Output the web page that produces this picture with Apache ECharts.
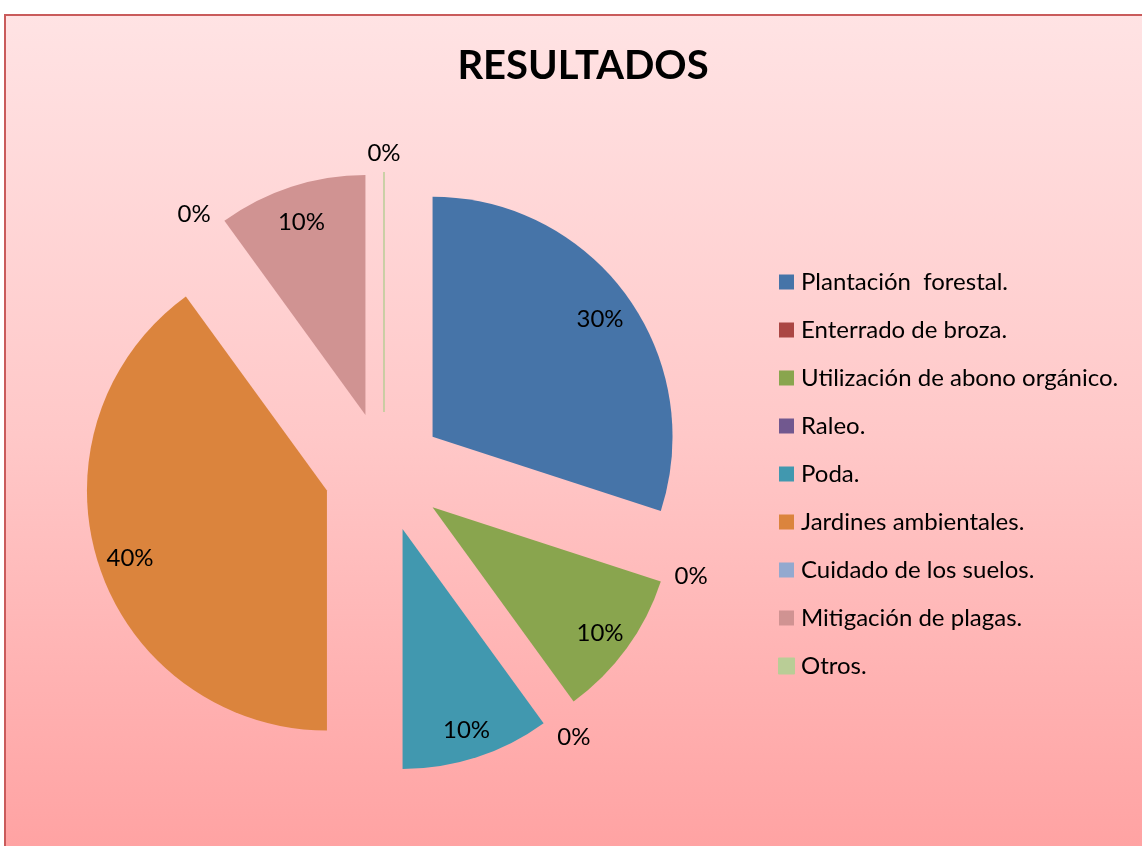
<!DOCTYPE html>
<html>
<head>
<meta charset="utf-8">
<script src="https://cdn.jsdelivr.net/npm/echarts@6/dist/echarts.min.js"></script>
<style>
  html, body { margin: 0; padding: 0; background: #fff; }
  #chart { width: 1142px; height: 846px; }
</style>
</head>
<body>
<div id="chart"></div>
<script>
// categorías y valores (porcentajes)
const categories = [
  'Plantación  forestal.',
  'Enterrado de broza.',
  'Utilización de abono orgánico.',
  'Raleo.',
  'Poda.',
  'Jardines ambientales.',
  'Cuidado de los suelos.',
  'Mitigación de plagas.',
  'Otros.'
]
const values = [30, 0, 10, 0, 10, 40, 0, 10, 0]
const colors = ['#4674A8', '#AA4643', '#89A54E', '#71588F', '#4198AF', '#DB843D', '#93A9CF', '#D09392', '#B9CD96']

const FONT = 'Lato'
const center = [384, 472]
const R = 240

const chart = echarts.init(document.getElementById('chart'), null, { renderer: 'canvas' })

// sectores
const pieData = categories.map((name, i) => ({
  name,
  value: values[i],
  selected: true,
  itemStyle: {
    color: colors[i],
    // Otros: sector vacío dibujado como una línea fina
    borderColor: name === 'Otros.' ? colors[i] : 'transparent',
    borderWidth: name === 'Otros.' ? 1 : 0
  }
}))

// solo etiquetas: anillo transparente para colocar el texto cerca del borde
const labelData = categories.map((name, i) => {
  const zero = values[i] === 0
  return {
    name,
    value: values[i],
    selected: true,
    label: zero
      ? { position: 'outside', distanceToLabelLine: 0 }
      : { position: 'inside' },
    labelLine: zero ? { show: false, length: 23, length2: 0 } : { show: false }
  }
})

const option = {
  animation: false,
  backgroundColor: 'transparent',
  graphic: [
    {
      type: 'rect',
      z: -10,
      silent: true,
      shape: { x: 5, y: 15, width: 1142, height: 840 },
      style: {
        fill: new echarts.graphic.LinearGradient(0, 0, 0, 1, [
          { offset: 0, color: '#FFE3E4' },
          { offset: 0.5, color: '#FFC8C8' },
          { offset: 1, color: '#FFA2A2' }
        ]),
        stroke: '#C95B5B',
        lineWidth: 2
      }
    }
  ],
  title: {
    text: 'RESULTADOS',
    left: 578,
    top: 41,
    textAlign: 'center',
    textStyle: { fontFamily: FONT, fontWeight: 'bold', fontSize: 40, color: '#000' }
  },
  legend: {
    orient: 'vertical',
    left: 778,
    top: 270,
    padding: 0,
    itemWidth: 15,
    itemHeight: 15,
    itemGap: 24,
    icon: 'rect',
    data: categories,
    textStyle: { fontFamily: FONT, fontSize: 24, color: '#000', lineHeight: 24, padding: [0, 0, 0, 2] }
  },
  series: [
    {
      type: 'pie',
      center,
      radius: R,
      startAngle: 90,
      clockwise: true,
      selectedMode: 'multiple',
      selectedOffset: 60,
      avoidLabelOverlap: false,
      label: { show: false },
      labelLine: { show: false },
      emphasis: { disabled: true },
      data: pieData
    },
    {
      type: 'pie',
      center,
      radius: [R * 0.7, R],
      startAngle: 90,
      clockwise: true,
      silent: true,
      selectedMode: 'multiple',
      selectedOffset: 60,
      avoidLabelOverlap: false,
      percentPrecision: 0,
      itemStyle: { color: 'transparent', borderWidth: 0 },
      label: {
        show: true,
        formatter: '{d}%',
        fontFamily: FONT,
        fontSize: 24,
        color: '#000'
      },
      labelLayout: { align: 'center', dy: 4 },
      emphasis: { disabled: true },
      tooltip: { show: false },
      data: labelData
    }
  ]
}

chart.setOption(option)
</script>
</body>
</html>
